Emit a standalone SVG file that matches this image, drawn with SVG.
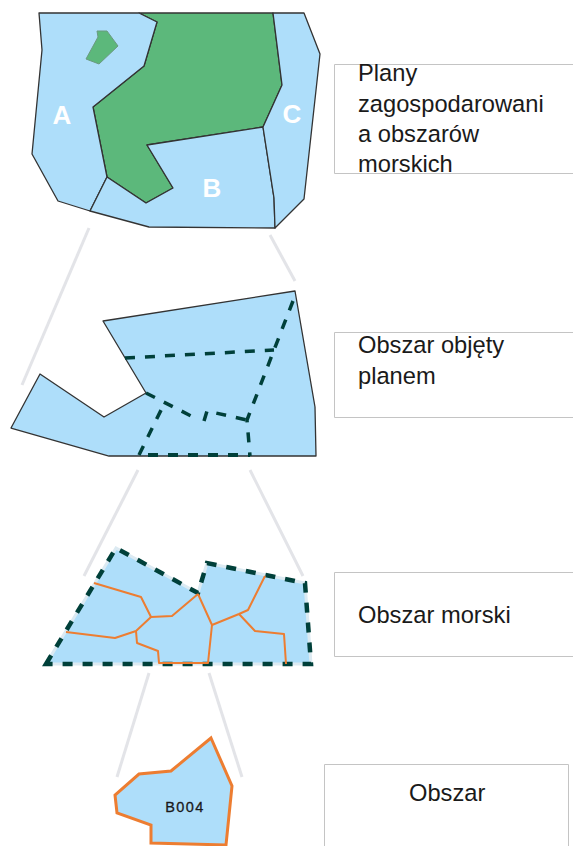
<svg xmlns="http://www.w3.org/2000/svg" width="573" height="846" viewBox="0 0 573 846">
<style>
.sea{fill:#aedefa;stroke:#333;stroke-width:1.3;stroke-linejoin:round}
.zone{fill:#5cb87b;stroke:#333;stroke-width:1.3;stroke-linejoin:round}
.dash{fill:none;stroke:#00403a;stroke-width:3.5;stroke-dasharray:10 10}
.or{fill:none;stroke:#ed7d31;stroke-width:2;stroke-linejoin:round}
.guide{fill:none;stroke:#e3e4e8;stroke-width:3}
.box{fill:none;stroke:#c4c4c4;stroke-width:1}
.t{font-family:"Liberation Sans",Arial,sans-serif;font-size:23.7px;fill:#1a1a1a}
.m{font-family:"Liberation Sans",Arial,sans-serif;font-size:26px;font-weight:bold;fill:#fff;text-anchor:middle}
</style>
<g id="connectors">
<path class="guide" d="M89 228L22 385"/>
<path class="guide" d="M270 235L295 281"/>
<path class="guide" d="M138 470L84 576"/>
<path class="guide" d="M250 470L303 576"/>
<path class="guide" d="M149 673L117 777"/>
<path class="guide" d="M209 673L242 777"/>
</g>
<g id="map">
<polygon class="zone" points="139,13 273,13 282,85 263,127 147,145 173,188 146,203 107,177 93,107 144,66 157,22"/>
<polygon class="sea" points="39,13 139,13 157,22 144,66 93,107 107,177 90,211 58,201 32,154 42,50"/>
<polygon class="sea" points="107,177 146,203 173,188 147,145 263,127 274,198 275,228 149,227 90,211"/>
<polygon class="sea" points="273,13 304,13 320,54 304,199 275,228 274,198 263,127 282,85"/>
<polygon points="97,31 107,31 118,46 99,64 86,59 98,37" style="fill:#5cb87b;stroke:#6b9a80;stroke-width:1"/>
<text class="m" x="62" y="124">A</text>
<text class="m" x="212" y="197">B</text>
<text class="m" x="292" y="123">C</text>
</g>
<g id="plan">
<polygon class="sea" points="103,321 295,291 315,407 316,456 109,456 11,428 40,374 104,417 146,393"/>
<path class="dash" d="M125 358L274 350"/>
<path class="dash" d="M293 301L274 350L247 420L250 456"/>
<path class="dash" d="M146 393L199 420"/>
<path class="dash" d="M204 421L207 411L247 420"/>
<path class="dash" d="M139 455L165 402"/>
<path class="dash" d="M148 455L250 455" style="stroke-width:4"/>
</g>
<g id="morski">
<polygon points="46,664 116,548 198,593 207,563 305,583 311,664" style="fill:#aedefa;stroke:#dceaf2;stroke-width:3"/>
<polygon points="46,664 116,548 198,593 207,563 305,583 311,664" style="fill:none;stroke:#00403a;stroke-width:4.5;stroke-dasharray:10 10"/>
<path class="or" d="M94 583L141 597L151 617L172 616L198 594"/>
<path class="or" d="M66 632L115 638L136 631L151 617"/>
<path class="or" d="M136 631L137 643L158 651L159 663L208 663L212 625L198 594"/>
<path class="or" d="M212 625L239 614L248 610L265 576"/>
<path class="or" d="M239 614L255 631L284 634L286 664"/>
</g>
<g id="obszar">
<polygon points="211,738 232,786 226,845 151,843 151,825 117,813 115,795 139,774 171,771" style="fill:#aedefa;stroke:#ed7d31;stroke-width:3"/>
<text x="185" y="812" text-anchor="middle" style="font-family:'Liberation Sans',Arial,sans-serif;font-size:14.5px;letter-spacing:1.4px;fill:#1a1a1a;stroke:#1a1a1a;stroke-width:.3">B004</text>
</g>
<g id="label1">
<path class="box" d="M573 64.500H334.500V173.500H573"/>
<text class="t" x="358" y="81">Plany</text>
<text class="t" x="358" y="112">zagospodarowani</text>
<text class="t" x="358" y="142">a obszarów</text>
<text class="t" x="358" y="172">morskich</text>
</g>
<g id="label2">
<path class="box" d="M573 332.500H334.500V417.500H573"/>
<text class="t" x="358" y="353">Obszar objęty</text>
<text class="t" x="358" y="384">planem</text>
</g>
<g id="label3">
<path class="box" d="M573 572.500H334.500V656.500H573"/>
<text class="t" x="358" y="623">Obszar morski</text>
</g>
<g id="label4">
<path class="box" d="M324.500 846V764.500H568.500V846"/>
<text class="t" x="409" y="801">Obszar</text>
</g>
</svg>
